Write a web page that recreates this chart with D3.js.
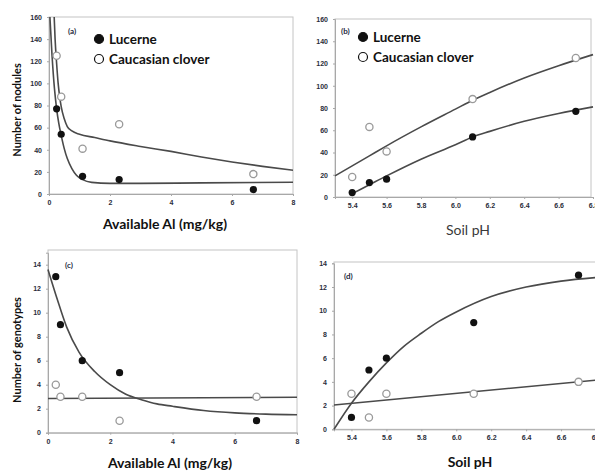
<!DOCTYPE html>
<html lang="en">
  <head>
    <meta charset="utf-8" />
    <title>Nodules and genotypes</title>
    <script type="text/javascript" src="https://cdn.jsdelivr.net/npm/d3@7/dist/d3.min.js"></script>
    <style>
      body { margin: 0; background: white; }
      svg { display: block; }
    </style>
  </head>
  <body>
    <script type="text/javascript">
// sampling sites: available Al and the matching soil pH
var alValues = [0.25, 0.4, 1.1, 2.3, 6.7];
var phValues = [6.7, 6.1, 5.6, 5.5, 5.4];

var lucerneNodules = [77, 54, 16, 13, 4];
var cloverNodules = [125, 88, 41, 63, 18];
var lucerneGenotypes = [13, 9, 6, 5, 1];
var cloverGenotypes = [4, 3, 3, 1, 3];

// fitted curves as [x, y]
var fitNodAlLucerne = [[0.03, 160], [0.1, 125], [0.18, 95], [0.25, 77], [0.32, 64], [0.4, 53],
  [0.5, 41], [0.6, 32], [0.75, 23], [0.9, 17], [1.1, 13], [1.4, 10.5], [2, 9.6], [3, 9.6],
  [5, 10.1], [8, 10.6]];
var fitNodAlClover = [[0.17, 160], [0.2, 140], [0.25, 118], [0.3, 100], [0.35, 88], [0.4, 79],
  [0.5, 68], [0.6, 61], [0.75, 57], [1, 54], [1.5, 51], [2, 48], [3, 43], [4, 38.5], [5, 33.5],
  [6, 29], [7, 25], [8, 21.5]];
var fitNodPhLucerne = [[5.4, 3], [5.5, 11], [5.6, 19], [5.8, 34], [6.0, 47], [6.1, 54], [6.2, 59],
  [6.4, 68], [6.6, 75], [6.8, 81]];
var fitNodPhClover = [[5.3, 19], [5.4, 28], [5.5, 37], [5.6, 46], [5.8, 63], [6.0, 79], [6.1, 87],
  [6.2, 94], [6.4, 107], [6.6, 118], [6.8, 128]];
var fitGenAlLucerne = [[0, 13.6], [0.3, 11.1], [0.6, 8.8], [1.0, 6.7], [1.5, 5.1], [2.0, 4.0],
  [2.5, 3.2], [3.0, 2.75], [3.5, 2.4], [4, 2.2], [5, 1.85], [6, 1.65], [7, 1.55], [8, 1.5]];
var fitGenAlClover = [[0, 2.85], [8, 2.95]];
var fitGenPhLucerne = [[5.3, 0], [5.4, 2.2], [5.5, 4.0], [5.6, 5.6], [5.7, 7.0], [5.8, 8.1],
  [5.9, 9.1], [6.0, 9.9], [6.2, 11.2], [6.4, 12.0], [6.6, 12.5], [6.8, 12.8]];
var fitGenPhClover = [[5.3, 2.05], [6.8, 4.15]];

// tick labels
var alTicks = [0, 2, 4, 6, 8];
var phTicks = [5.4, 5.6, 5.8, 6.0, 6.2, 6.4, 6.6, 6.8];
var nodTicks = [0, 20, 40, 60, 80, 100, 120, 140, 160];
var genTicks = [0, 2, 4, 6, 8, 10, 12, 14];

var seriesNames = ["Lucerne", "Caucasian clover"];

var w = 595;
var h = 472;
var svg = d3.select("body")
            .append("svg")
            .attr("width", w)
            .attr("height", h)
            .style("font-family", "Lato, 'Open Sans', sans-serif");

function zip(xs, ys) {
  return xs.map(function(x, i) { return [x, ys[i]]; });
}

function drawPanel(p) {
  var x = d3.scaleLinear().domain(p.xDomain).range(p.xRange);
  var y = d3.scaleLinear().domain(p.yDomain).range(p.yRange);
  var g = svg.append("g").attr("id", "panel_" + p.id);

  // frame
  g.append("rect")
   .attr("x", p.xRange[0])
   .attr("y", p.frameTop)
   .attr("width", p.frameRight - p.xRange[0])
   .attr("height", p.yRange[0] - p.frameTop)
   .attr("fill", "none")
   .attr("stroke", "#c4c4c4")
   .attr("stroke-width", 1);

  var xAxis = g.append("g")
               .attr("transform", "translate(0," + p.yRange[0] + ")")
               .call(d3.axisBottom(x).tickValues(p.xTicks).tickSize(2).tickPadding(4)
                       .tickFormat(p.xFormat));
  var yAxis = g.append("g")
               .attr("transform", "translate(" + p.xRange[0] + ",0)")
               .call(d3.axisLeft(y).tickValues(p.yTicks).tickSize(2).tickPadding(5));
  [xAxis, yAxis].forEach(function(a) {
    a.select(".domain").attr("stroke", "#a8a8a8");
    a.selectAll(".tick line").attr("stroke", "#a8a8a8");
    a.selectAll(".tick text")
     .attr("fill", "#2a2d3a")
     .attr("font-size", "7px")
     .attr("font-weight", "bold");
  });

  var line = d3.line()
               .x(function(d) { return x(d[0]); })
               .y(function(d) { return y(d[1]); })
               .curve(d3.curveMonotoneX);
  g.selectAll("path.fit")
   .data(p.fits)
   .enter()
   .append("path")
   .attr("class", "fit")
   .attr("d", line)
   .attr("fill", "none")
   .attr("stroke", "#4a4a4a")
   .attr("stroke-width", 1.6);

  g.selectAll("circle.open")
   .data(zip(p.xs, p.clover))
   .enter()
   .append("circle")
   .attr("class", "open")
   .attr("cx", function(d) { return x(d[0]); })
   .attr("cy", function(d) { return y(d[1]); })
   .attr("r", 3.6)
   .attr("fill", "white")
   .attr("stroke", "#9a9a9a")
   .attr("stroke-width", 1.3);
  g.selectAll("circle.filled")
   .data(zip(p.xs, p.lucerne))
   .enter()
   .append("circle")
   .attr("class", "filled")
   .attr("cx", function(d) { return x(d[0]); })
   .attr("cy", function(d) { return y(d[1]); })
   .attr("r", 3.6)
   .attr("fill", "#111");

  g.append("text")
   .text("(" + p.id + ")")
   .attr("x", p.tag[0])
   .attr("y", p.tag[1])
   .attr("font-size", "8px")
   .attr("font-weight", "bold")
   .attr("fill", "#22263a");

  if (p.legend) {
    var lg = g.append("g").attr("transform", "translate(" + p.legend[0] + "," + p.legend[1] + ")");
    lg.selectAll("circle")
      .data(seriesNames)
      .enter()
      .append("circle")
      .attr("cx", 0)
      .attr("cy", function(d, i) { return i * 20; })
      .attr("r", 4.5)
      .attr("fill", function(d, i) { return i === 0 ? "#111" : "white"; })
      .attr("stroke", "#111")
      .attr("stroke-width", 1.2);
    lg.selectAll("text")
      .data(seriesNames)
      .enter()
      .append("text")
      .text(function(d) { return d; })
      .attr("x", 10)
      .attr("y", function(d, i) { return i * 20 + 5; })
      .attr("font-size", "13.5px")
      .attr("font-weight", "bold")
      .attr("fill", "#111");
  }

  g.append("text")
   .text(p.xLabel)
   .attr("x", p.xLabelPos[0])
   .attr("y", p.xLabelPos[1])
   .attr("text-anchor", "middle")
   .attr("font-size", "14px")
   .attr("font-weight", p.xLabelBold ? "bold" : "normal")
   .attr("fill", p.xLabelBold ? "#111" : "#3a3a3a");

  if (p.yLabel) {
    g.append("text")
     .text(p.yLabel)
     .attr("transform", "translate(" + p.yLabelPos[0] + "," + p.yLabelPos[1] + ") rotate(-90)")
     .attr("text-anchor", "middle")
     .attr("font-size", "11px")
     .attr("font-weight", "bold")
     .attr("fill", "#111");
  }
}

var fmt1 = d3.format(".1f");

drawPanel({
  id: "a", xDomain: [0, 8], xRange: [49, 293], yDomain: [0, 160], yRange: [194, 17],
  frameTop: 17, frameRight: 293, xTicks: alTicks, yTicks: nodTicks, xFormat: d3.format("d"),
  xs: alValues, lucerne: lucerneNodules, clover: cloverNodules,
  fits: [fitNodAlLucerne, fitNodAlClover],
  tag: [68, 34], legend: [99, 39],
  xLabel: "Available Al (mg/kg)", xLabelPos: [165, 229], xLabelBold: true,
  yLabel: "Number of nodules", yLabelPos: [21, 110]
});
drawPanel({
  id: "b", xDomain: [5.3, 6.8], xRange: [335, 593], yDomain: [0, 160], yRange: [197, 19],
  frameTop: 19, frameRight: 591, xTicks: phTicks, yTicks: nodTicks, xFormat: fmt1,
  xs: phValues, lucerne: lucerneNodules, clover: cloverNodules,
  fits: [fitNodPhLucerne, fitNodPhClover],
  tag: [341, 34], legend: [363, 37],
  xLabel: "Soil pH", xLabelPos: [468, 235], xLabelBold: false
});
drawPanel({
  id: "c", xDomain: [0, 8], xRange: [48, 297], yDomain: [0, 15], yRange: [432.7, 252.7],
  frameTop: 250, frameRight: 297, xTicks: alTicks, yTicks: genTicks, xFormat: d3.format("d"),
  xs: alValues, lucerne: lucerneGenotypes, clover: cloverGenotypes,
  fits: [fitGenAlLucerne, fitGenAlClover],
  tag: [65, 268],
  xLabel: "Available Al (mg/kg)", xLabelPos: [170, 468], xLabelBold: true,
  yLabel: "Number of genotypes", yLabelPos: [21, 350]
});
drawPanel({
  id: "d", xDomain: [5.3, 6.8], xRange: [334, 596], yDomain: [0, 14], yRange: [429.3, 263.3],
  frameTop: 262, frameRight: 596, xTicks: phTicks, yTicks: genTicks, xFormat: fmt1,
  xs: phValues, lucerne: lucerneGenotypes, clover: cloverGenotypes,
  fits: [fitGenPhLucerne, fitGenPhClover],
  tag: [344, 279],
  xLabel: "Soil pH", xLabelPos: [470, 467], xLabelBold: true
});
    </script>
  </body>
</html>
